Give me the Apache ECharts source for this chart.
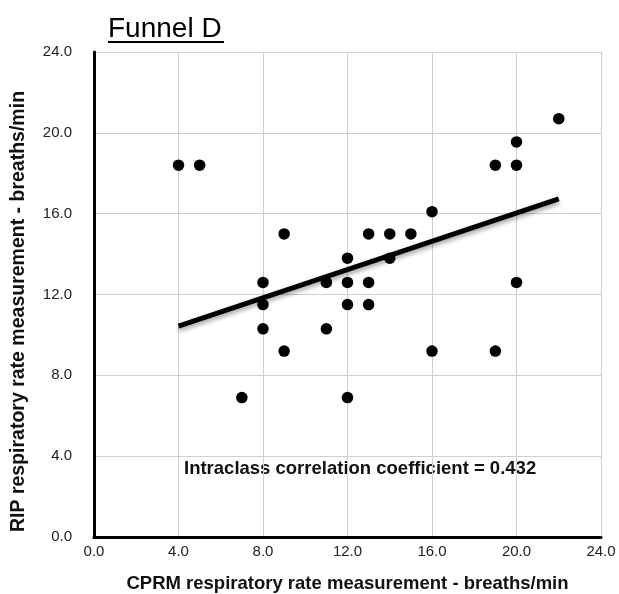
<!DOCTYPE html>
<html><head><meta charset="utf-8">
<script src="https://cdn.jsdelivr.net/npm/echarts@6/dist/echarts.min.js"></script>
<style>html,body{margin:0;padding:0;background:#fff}#c{width:619px;height:594px}</style>
</head><body><div id="c"></div>
<script>
const titleText = "Funnel D";
const xName = "CPRM respiratory rate measurement - breaths/min";
const yName = "RIP respiratory rate measurement - breaths/min";
const annotation = "Intraclass correlation coefficient = 0.432";
const cprm = [4,5,7,8,8,8,9,9,11,11,12,12,12,12,13,13,13,14,14,15,16,16,19,19,20,20,20,22];
const rip  = [18.4,18.4,6.9,12.6,11.5,10.3,15,9.2,12.6,10.3,13.8,12.6,11.5,6.9,15,12.6,11.5,15,13.8,15,16.1,9.2,18.4,9.2,19.55,18.4,12.6,20.7];
const trendX = [4, 22];
const trendY = [10.43, 16.73];

const points = cprm.map((x,i)=>[x, rip[i]]);
const trend = trendX.map((x,i)=>[x, trendY[i]]);
const chart = echarts.init(document.getElementById('c'));
const font = 'Liberation Sans, Helvetica, Arial, sans-serif';
chart.setOption({
  animation:false,
  backgroundColor:'#fff',
  grid:{left:94,right:18,top:52,bottom:57,containLabel:false,outerBoundsMode:'none'},
  xAxis:{type:'value',min:0,max:24,interval:4,
    name:xName,nameLocation:'middle',nameGap:37,
    nameTextStyle:{fontFamily:font,fontWeight:'bold',fontSize:18.5,color:'#111'},
    axisLine:{show:true,onZero:false,lineStyle:{color:'#000',width:3}},
    axisTick:{show:false},
    axisLabel:{fontFamily:font,fontSize:15,color:'#222',margin:7,formatter:v=>v.toFixed(1)},
    splitLine:{show:true,lineStyle:{color:'#cfcfcf',width:1}}},
  yAxis:{type:'value',min:0,max:24,interval:4,
    name:yName,nameLocation:'middle',nameGap:65,nameRotate:90,
    nameTextStyle:{fontFamily:font,fontWeight:'bold',fontSize:19.5,color:'#111',padding:[0,34,0,0]},
    axisLine:{show:true,onZero:false,lineStyle:{color:'#000',width:3}},
    axisTick:{show:false},
    axisLabel:{fontFamily:font,fontSize:15,color:'#222',margin:22,formatter:v=>v.toFixed(1)},
    splitLine:{show:true,lineStyle:{color:'#cfcfcf',width:1}}},
  graphic:[
    {type:'text',left:108,top:15,style:{text:titleText,fontFamily:font,fontSize:28,fill:'#000'}},
    {type:'rect',left:108,top:41,shape:{width:116,height:2},style:{fill:'#000'}},
    {type:'text',left:184,top:459,style:{text:annotation,fontFamily:font,fontSize:18.5,fontWeight:'bold',fill:'#111'}}
  ],
  series:[
    {type:'line',data:trend,symbol:'none',z:3,
      lineStyle:{color:'#000',width:5,shadowColor:'rgba(0,0,0,0.35)',shadowBlur:4,shadowOffsetY:3}},
    {type:'scatter',data:points,symbolSize:11.5,z:4,itemStyle:{color:'#000',opacity:1}}
  ]
});
</script></body></html>
